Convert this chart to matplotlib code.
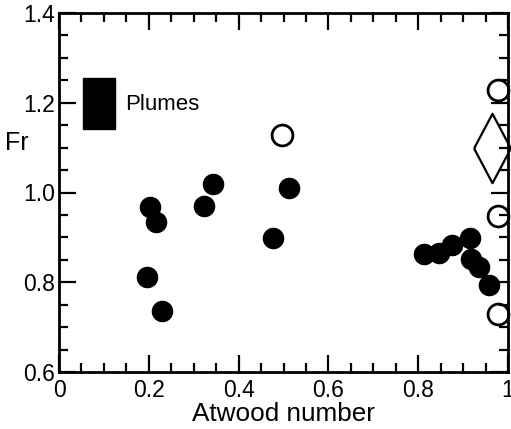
import matplotlib
matplotlib.use("Agg")
import matplotlib.pyplot as plt
from matplotlib.patches import Patch
from matplotlib.ticker import MultipleLocator

# ---- data ----
filled_x = [0.203, 0.217, 0.197, 0.229, 0.323, 0.344, 0.477, 0.512,
            0.813, 0.846, 0.876, 0.915, 0.918, 0.935, 0.957]
filled_y = [0.968, 0.934, 0.812, 0.736, 0.971, 1.018, 0.898, 1.009,
            0.862, 0.865, 0.883, 0.898, 0.852, 0.835, 0.794]
open_x = [0.497, 0.978, 0.978, 0.978]
open_y = [1.128, 1.228, 0.948, 0.729]
diamond_x = [0.964]
diamond_y = [1.099]
xticks = [0, 0.2, 0.4, 0.6, 0.8, 1.0]
xtick_labels = ["0", "0.2", "0.4", "0.6", "0.8", "1"]
yticks = [0.6, 0.8, 1.0, 1.2, 1.4]
ytick_labels = ["0.6", "0.8", "1.0", "1.2", "1.4"]
legend_label = "Plumes"

plt.rcParams['font.family'] = ['Liberation Sans', 'DejaVu Sans']

fig = plt.figure(figsize=(5.11, 4.29), dpi=100)
ax = fig.add_axes([59/511, 1-372/429, (508-59)/511, (372-13)/429])

ax.plot(filled_x, filled_y, 'o', color='black', markersize=14.5, linestyle='none')
ax.plot(open_x, open_y, 'o', markerfacecolor='white', markeredgecolor='black',
        markeredgewidth=2, markersize=15, linestyle='none', clip_on=False, zorder=1)
diamond = [(-0.53, 0), (0, 1), (0.53, 0), (0, -1), (-0.53, 0)]
ax.plot(diamond_x, diamond_y, marker=diamond, markerfacecolor='white',
        markeredgecolor='black', markeredgewidth=1.6, markersize=50,
        linestyle='none', clip_on=False, zorder=1)

ax.set_xlim(0, 1)
ax.set_ylim(0.6, 1.4)
ax.set_xticks(xticks)
ax.set_xticklabels(xtick_labels)
ax.set_yticks(yticks)
ax.set_yticklabels(ytick_labels)
ax.xaxis.set_minor_locator(MultipleLocator(0.05))
ax.yaxis.set_minor_locator(MultipleLocator(0.05))
ax.tick_params(which='both', direction='in', top=True, right=True, width=1.6,
               labelsize=16.5, colors='black')
ax.tick_params(which='major', length=12)
ax.tick_params(which='minor', length=6.5)
ax.tick_params(axis='x', pad=5)
ax.tick_params(axis='y', pad=3)
for s in ax.spines.values():
    s.set_linewidth(2)

ax.set_xlabel("Atwood number", fontsize=18.8, labelpad=0)
ax.set_ylabel("Fr", fontsize=18, rotation=0, ha='center', va='center')
ax.yaxis.set_label_coords(-0.095, 0.638)

fs = 16
fpx = fs * 100 / 72
hh = (51 - 0.245 * fpx) / (0.65 * fpx)
leg = ax.legend(handles=[Patch(facecolor='black', edgecolor='black')],
                labels=[legend_label], loc='center left',
                bbox_to_anchor=(0.053, 0.748), frameon=False, fontsize=fs,
                handlelength=32/fpx, handleheight=hh,
                handletextpad=0.45, borderpad=0, borderaxespad=0)

fig.savefig("out.png", dpi=100)
